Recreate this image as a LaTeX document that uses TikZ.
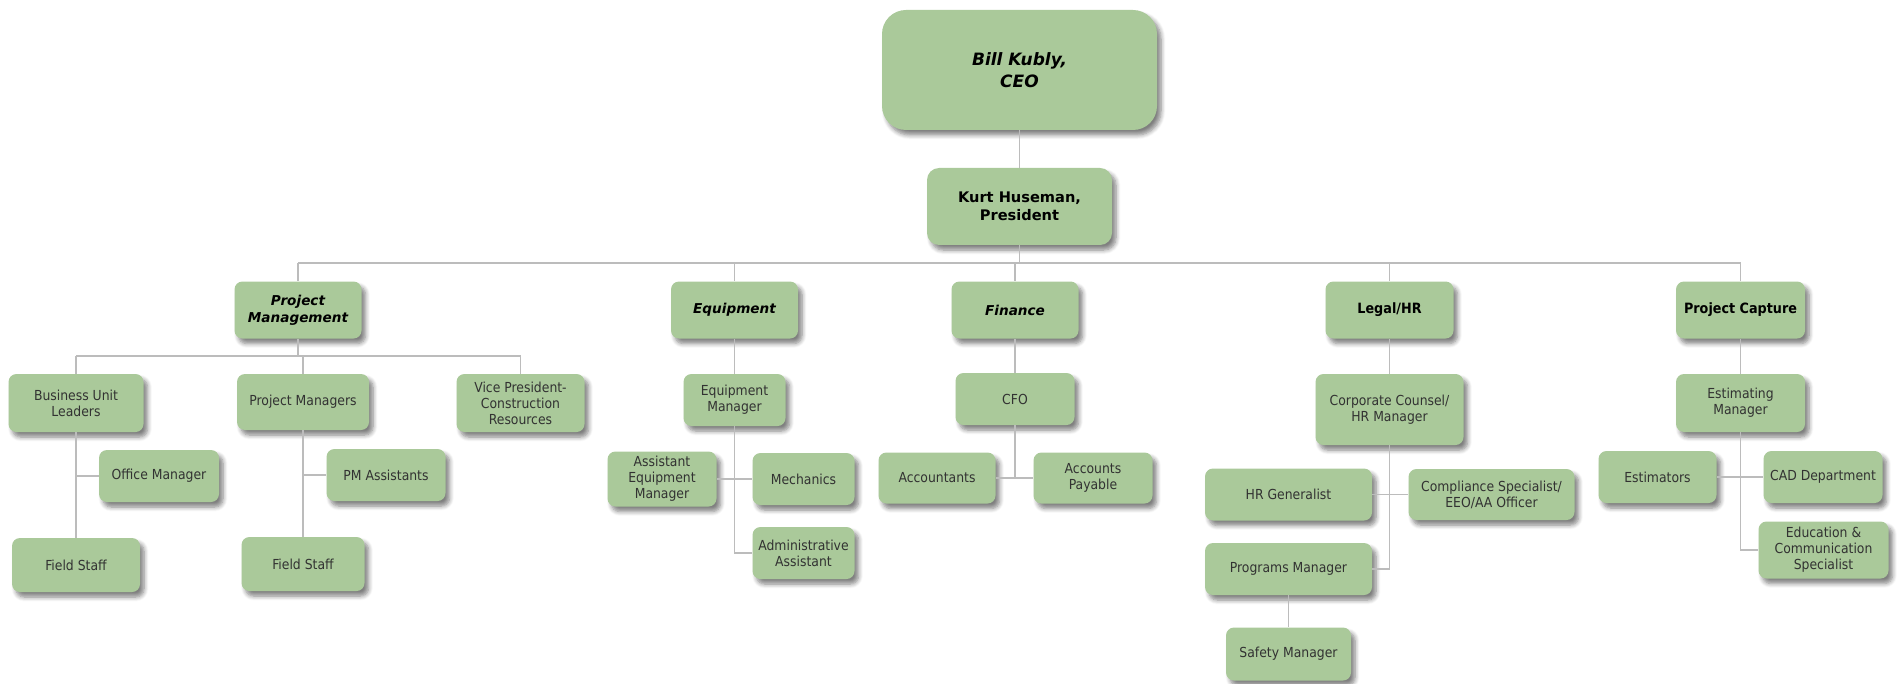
\documentclass[tikz,border=0pt]{standalone}
\usepackage{fontspec}
\setmainfont{DejaVu Sans Condensed}
\newfontfamily\verd{DejaVu Sans}
\usepackage{tikz}
\usetikzlibrary{shadows.blur}
\definecolor{boxgreen}{RGB}{170,201,154}
\definecolor{linegray}{RGB}{188,188,188}
\definecolor{txtgray}{RGB}{50,50,50}
\tikzset{
  box/.style={rectangle,rounded corners=4pt,fill=boxgreen,inner sep=0pt,align=center,
    text=txtgray,font=\fontsize{6.9}{8}\selectfont,
    blur shadow={shadow xshift=2pt,shadow yshift=-2.5pt,shadow blur steps=6,shadow opacity=50}},
  head/.style={box,text=black,font=\verd\bfseries\itshape\fontsize{6.8}{8.5}\selectfont},
  plainhead/.style={box,text=black,font=\bfseries\fontsize{7.1}{8.5}\selectfont},
  link/.style={draw=linegray,line width=0.8pt}
}
\begin{document}
\begin{tikzpicture}[x=0.5pt,y=-0.5pt]
\useasboundingbox (0,0) rectangle (1899,684);
% top
\node[box,rounded corners=12pt,text=black,minimum width=137.5pt,minimum height=60pt,
  font=\verd\bfseries\itshape\fontsize{8.5}{10.8}\selectfont](ceo)at(1019.5,70){Bill Kubly,\\CEO};
\node[box,rounded corners=6pt,text=black,minimum width=92.5pt,minimum height=38.5pt,
  font=\verd\bfseries\fontsize{7.3}{9}\selectfont](pres)at(1019.5,206.5){Kurt Huseman,\\President};
% departments
\node[head,minimum width=63.5pt,minimum height=28.5pt](pm)at(298,310){Project\\Management};
\node[head,minimum width=63.5pt,minimum height=28.5pt](eq)at(734.5,310){Equipment};
\node[head,minimum width=63.5pt,minimum height=28.5pt](fin)at(1015,310){Finance};
\node[plainhead,minimum width=64pt,minimum height=28.5pt](hr)at(1389.5,310){Legal/HR};
\node[plainhead,minimum width=64.5pt,minimum height=28.5pt](cap)at(1740.5,310){Project Capture};
% project management
\node[box,minimum width=67.5pt,minimum height=29pt](bul)at(76,403){Business Unit\\Leaders};
\node[box,minimum width=66pt,minimum height=28pt](pjm)at(303,402){Project Managers};
\node[box,minimum width=64pt,minimum height=29pt](vp)at(520.5,403){Vice President-\\Construction\\Resources};
\node[box,minimum width=60pt,minimum height=26pt](om)at(159,476){Office Manager};
\node[box,minimum width=64pt,minimum height=27pt](fs1)at(76,565){Field Staff};
\node[box,minimum width=59.5pt,minimum height=26pt](pma)at(386,475){PM Assistants};
\node[box,minimum width=61.5pt,minimum height=27pt](fs2)at(303,564){Field Staff};
% equipment
\node[box,minimum width=51pt,minimum height=26pt](em)at(734.5,400){Equipment\\Manager};
\node[box,minimum width=54.5pt,minimum height=27.5pt](aem)at(662,479){Assistant\\Equipment\\Manager};
\node[box,minimum width=51pt,minimum height=26pt](mech)at(803.5,479){Mechanics};
\node[box,minimum width=51pt,minimum height=26pt](adm)at(803.5,553){Administrative\\Assistant};
% finance
\node[box,minimum width=59.5pt,minimum height=26pt](cfo)at(1015,399){CFO};
\node[box,minimum width=58.5pt,minimum height=25.5pt](acc)at(937,478){Accountants};
\node[box,minimum width=59.5pt,minimum height=25.5pt](ap)at(1093,478){Accounts\\Payable};
% legal/hr
\node[box,minimum width=74pt,minimum height=35.5pt](cc)at(1389.5,409.5){Corporate Counsel/\\HR Manager};
\node[box,minimum width=83.5pt,minimum height=26pt](hrg)at(1288.5,494.5){HR Generalist};
\node[box,minimum width=83pt,minimum height=25.5pt](comp)at(1491.5,494.5){Compliance Specialist/\\EEO/AA Officer};
\node[box,minimum width=83.5pt,minimum height=26pt](prg)at(1288.5,569){Programs Manager};
\node[box,minimum width=62.5pt,minimum height=26.5pt](saf)at(1288.5,654){Safety Manager};
% project capture
\node[box,minimum width=64.5pt,minimum height=29pt](est)at(1740.5,403){Estimating\\Manager};
\node[box,minimum width=59pt,minimum height=26pt](estr)at(1657.5,477){Estimators};
\node[box,minimum width=59.5pt,minimum height=26pt](cad)at(1823,477){CAD Department};
\node[box,minimum width=65pt,minimum height=28.5pt](edu)at(1823.5,550){Education \&\\Communication\\Specialist};
% connectors
\coordinate (bus) at (0,263);
\coordinate (pmbus) at (0,356);
\draw[link] (ceo) -- (pres);
\draw[link] (pres.south) -- (pres.south |- bus);
\draw[link] (pm.north |- bus) -- (cap.north |- bus);
\foreach \n in {pm,eq,fin,hr,cap}
  \draw[link] (\n.north |- bus) -- (\n.north);
\draw[link] (pm.south) -- (pm.south |- pmbus);
\draw[link] (bul.north |- pmbus) -- (vp.north |- pmbus);
\foreach \n in {bul,pjm,vp}
  \draw[link] (\n.north |- pmbus) -- (\n.north);
\draw[link] (bul.south) -- (fs1.north);
\draw[link] (bul.south |- om.west) -- (om.west);
\draw[link] (pjm.south) -- (fs2.north);
\draw[link] (pjm.south |- pma.west) -- (pma.west);
\draw[link] (eq) -- (em);
\draw[link] (em.south) |- (adm.west);
\draw[link] (aem.east) -- (mech.west);
\draw[link] (fin) -- (cfo);
\draw[link] (cfo.south) -- (cfo.south |- acc.east);
\draw[link] (acc.east) -- (ap.west);
\draw[link] (hr) -- (cc);
\draw[link] (cc.south) |- (prg.east);
\draw[link] (hrg.east) -- (comp.west);
\draw[link] (prg) -- (saf);
\draw[link] (cap) -- (est);
\draw[link] (est.south) |- (edu.west);
\draw[link] (estr.east) -- (cad.west);
\end{tikzpicture}
\end{document}
